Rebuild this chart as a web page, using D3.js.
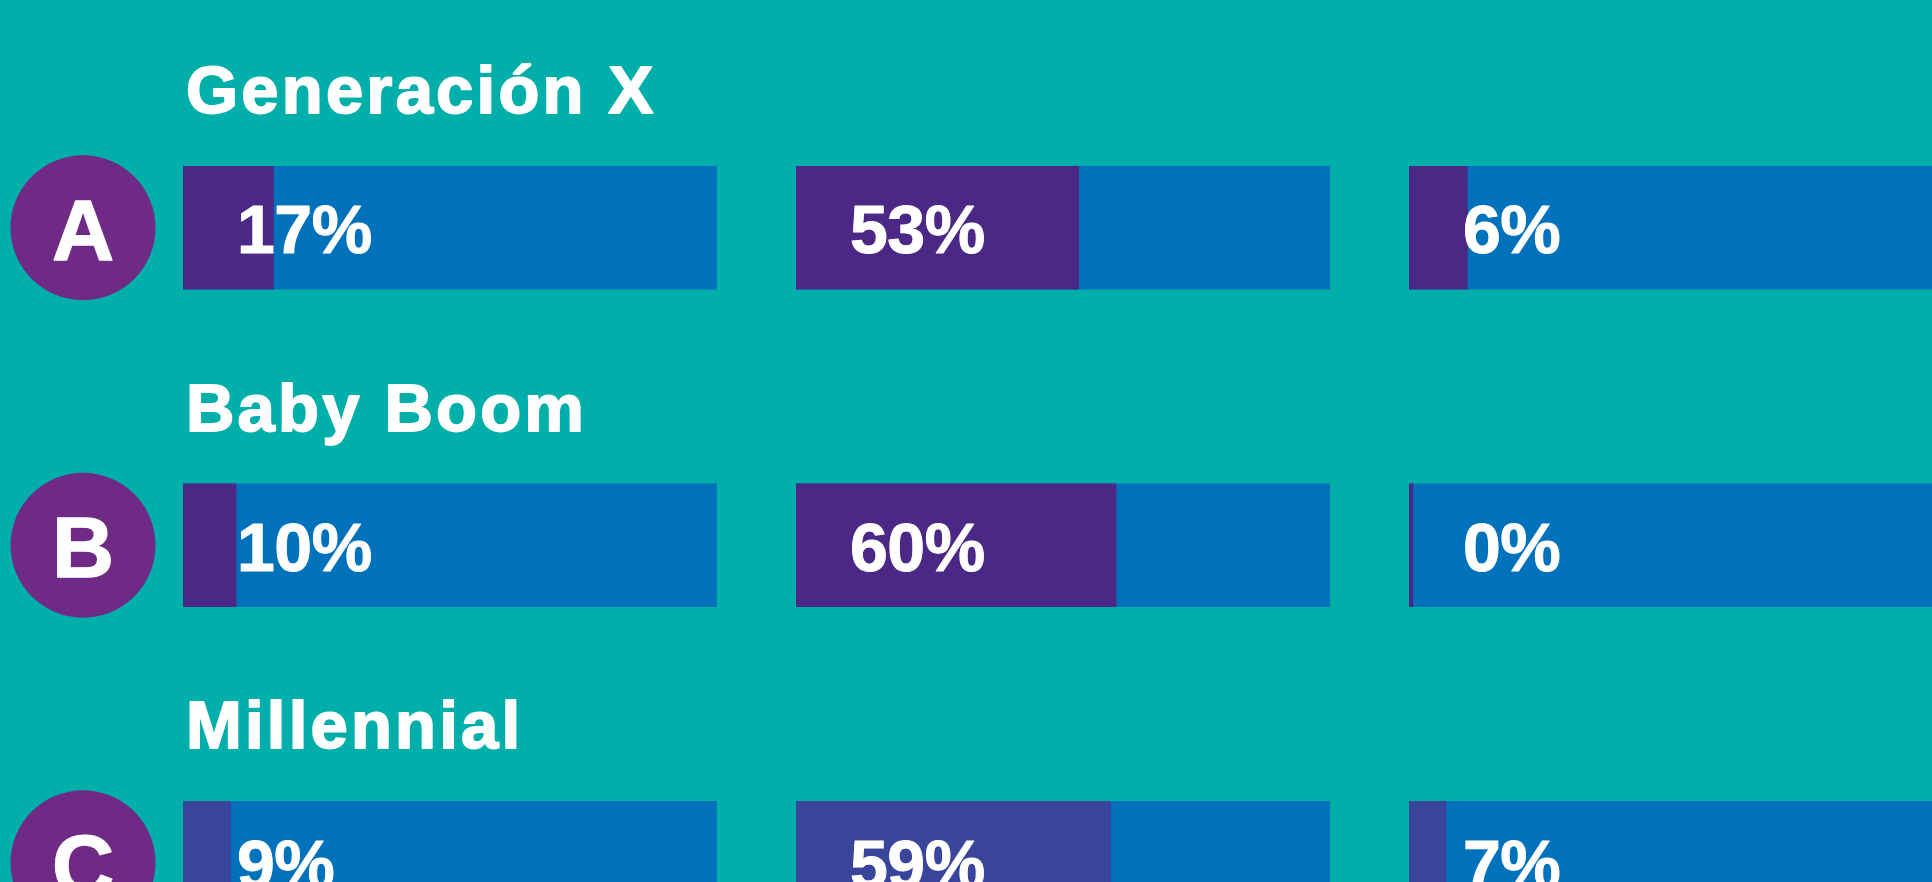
<!DOCTYPE html>
<html>
<head>
<meta charset="utf-8">
<script src="https://cdn.jsdelivr.net/npm/d3@7"></script>
<style>
  html, body { margin: 0; padding: 0; background: #00afa9; overflow: hidden; }
  svg { display: block; }
</style>
</head>
<body>
<svg id="chart"></svg>
<script>
// ------------------
// Data
// ------------------
const generations = ['Generación X', 'Baby Boom', 'Millennial']
const badges = ['A', 'B', 'C']
const columns = ['q1', 'q2', 'q3']
// percentages printed on the bars
const labelValues = [
  [17, 53, 6],
  [10, 60, 0],
  [9, 59, 7]
]
// filled share of each bar
const barValues = [
  [17, 53, 11],
  [10, 60, 0.8],
  [9, 59, 7]
]

const width = 1932
const height = 882

const svg = d3.select('#chart')
  .attr('width', width)
  .attr('height', height)

svg.append('rect')
  .attr('width', width)
  .attr('height', height)
  .attr('fill', '#00afa9')

// ------------------
// Scales
// ------------------
const x = d3.scaleBand()
  .domain(columns)
  .range([183, 1943])
  .paddingInner(0.1289)
  .paddingOuter(0)

const rowY = d3.scaleLinear()
  .domain([0, 1])
  .range([166, 483.5])

const barH = 123.5

const fill = d3.scaleLinear()
  .domain([0, 100])
  .range([0, x.bandwidth()])

const fillColor = ['#4b2885', '#4b2885', '#39459b']

const font = '"Liberation Sans", Arial, Helvetica, sans-serif'

// heavy white text, a stroke thickens the glyphs
function whiteText(sel, size, strokeW) {
  sel.attr('fill', '#fff')
    .attr('stroke', '#fff')
    .attr('stroke-width', strokeW)
    .attr('stroke-linejoin', 'round')
    .attr('font-family', font)
    .attr('font-weight', 'bold')
    .attr('font-size', size)
}

// ------------------
// Rows
// ------------------
const rows = svg.selectAll('g.row')
  .data(generations)
  .enter()
  .append('g')
  .attr('class', 'row')
  .attr('transform', (d, i) => `translate(0,${rowY(i)})`)

// title
rows.append('text')
  .attr('x', 186)
  .attr('y', -53)
  .call(whiteText, 67, 1.8)
  .attr('letter-spacing', 3.2)
  .text(d => d)

// badge
rows.append('circle')
  .attr('cx', 83)
  .attr('cy', barH / 2)
  .attr('r', 72.5)
  .attr('fill', '#6e2a85')

rows.append('text')
  .attr('x', 83)
  .attr('y', barH / 2 + 32)
  .attr('text-anchor', 'middle')
  .call(whiteText, 86, 1.4)
  .text((d, i) => badges[i])

// bars
const cells = rows.selectAll('g.cell')
  .data((d, i) => columns.map((c, j) => ({
    row: i, col: c, value: barValues[i][j], label: labelValues[i][j]
  })))
  .enter()
  .append('g')
  .attr('class', 'cell')
  .attr('transform', d => `translate(${x(d.col)},0)`)

cells.append('rect')
  .attr('width', x.bandwidth())
  .attr('height', barH)
  .attr('fill', '#0071bb')

cells.append('rect')
  .attr('width', d => fill(d.value))
  .attr('height', barH)
  .attr('fill', d => fillColor[d.row])

cells.append('text')
  .attr('x', 54)
  .attr('y', barH / 2 + 25.5)
  .call(whiteText, 68, 1)
  .attr('letter-spacing', -0.5)
  .text(d => d.label + '%')
</script>
</body>
</html>
